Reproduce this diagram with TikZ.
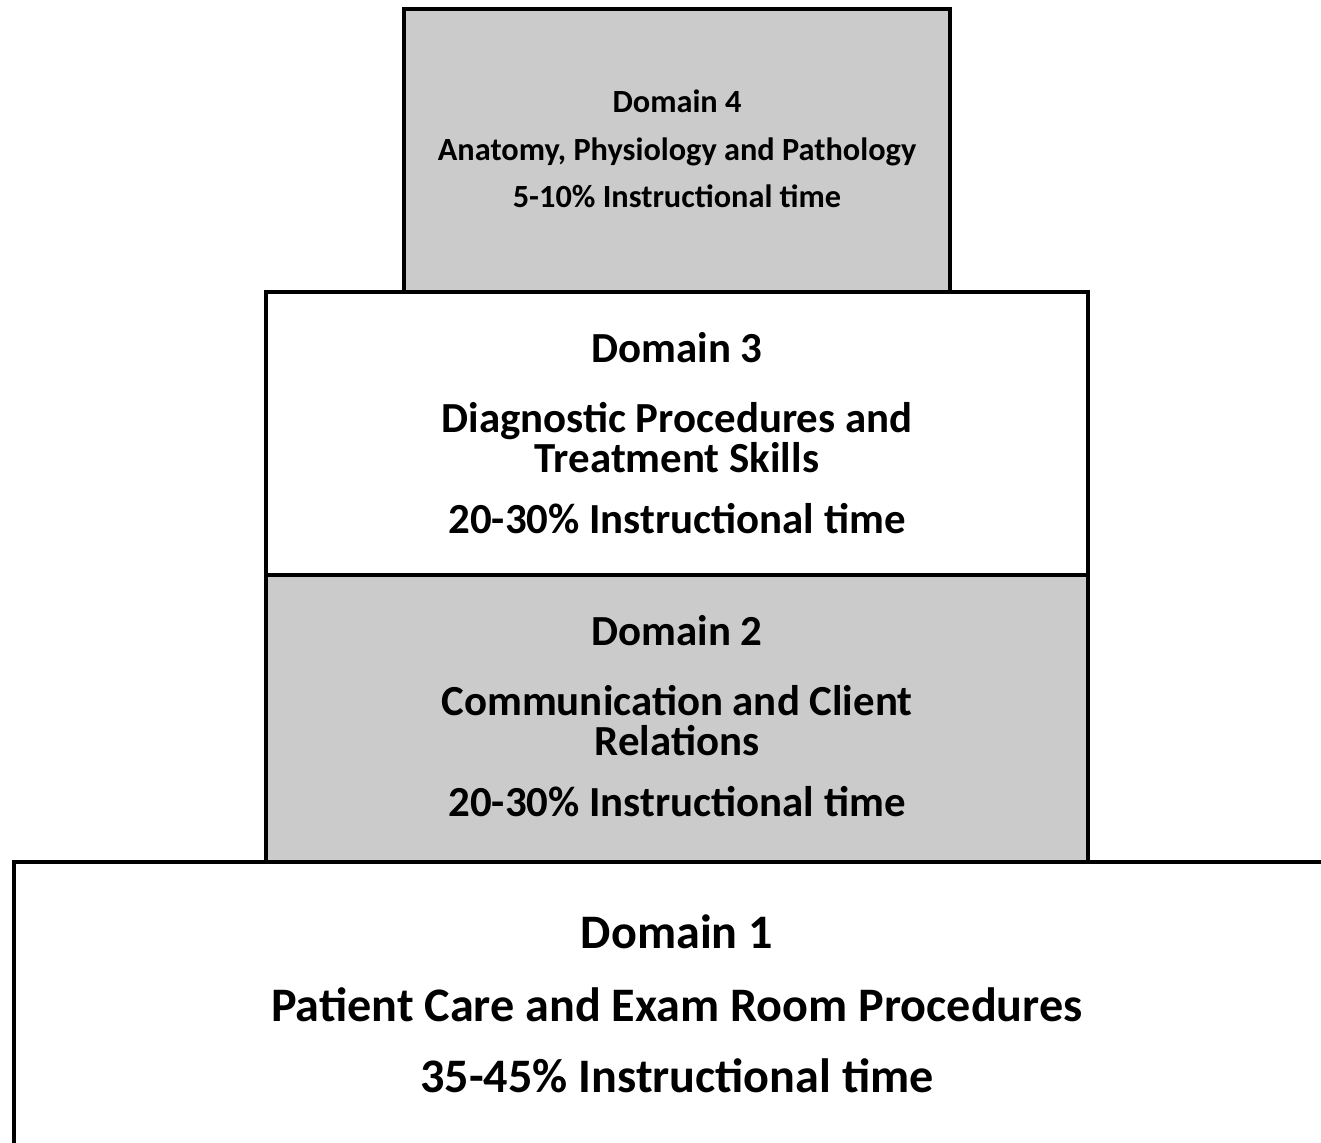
\documentclass[tikz,border=0pt]{standalone}
\usepackage{fontspec}
\setmainfont{Carlito}
\definecolor{boxgray}{HTML}{CBCBCB}
\begin{document}
\begin{tikzpicture}[x=0.02cm,y=-0.02cm,
  level/.style={draw=black, line width=0.08cm, rectangle, inner sep=0pt, outer sep=0pt},
  big/.style={anchor=base, inner sep=0pt, font=\fontsize{24.4}{28}\selectfont\bfseries},
  huge/.style={anchor=base, inner sep=0pt, font=\fontsize{27.4}{32}\selectfont\bfseries},
  small/.style={anchor=base, inner sep=0pt, font=\fontsize{18.4}{22}\selectfont\bfseries}]
\useasboundingbox (0,0) rectangle (1321,1142);
\clip (0,0) rectangle (1321,1142);
% boxes
\node[level, fill=boxgray, minimum width=10.92cm, minimum height=5.66cm] (d4) at (677,150.5) {};
\node[level, fill=white, minimum width=16.44cm, minimum height=5.66cm] (d3) at (677,433.5) {};
\node[level, fill=boxgray, minimum width=16.44cm, minimum height=5.74cm] (d2) at (677,718.5) {};
\node[level, fill=white, minimum width=27.72cm, minimum height=6.76cm] (d1) at (707,1031) {};
% Domain 4 text
\node[small] (d4a) at (677,113) {Domain 4};
\node[small] (d4b) at (677,161) {Anatomy, Physiology and Pathology};
\node[small] (d4c) at (677,208) {5-10\% Instructional time};
% Domain 3 text
\node[big] (d3a) at (677,362) {Domain 3};
\node[big] (d3b) at (677,432) {Diagnostic Procedures and};
\node[big] (d3c) at (677,472) {Treatment Skills};
\node[big] (d3d) at (677,533) {20-30\% Instructional time};
% Domain 2 text
\node[big] (d2a) at (677,645) {Domain 2};
\node[big] (d2b) at (677,715) {Communication and Client};
\node[big] (d2c) at (677,755) {Relations};
\node[big] (d2d) at (677,816) {20-30\% Instructional time};
% Domain 1 text
\node[huge] (d1a) at (677,948) {Domain 1};
\node[huge] (d1b) at (677,1021) {Patient Care and Exam Room Procedures};
\node[huge] (d1c) at (677,1092) {35-45\% Instructional time};
\end{tikzpicture}
\end{document}
